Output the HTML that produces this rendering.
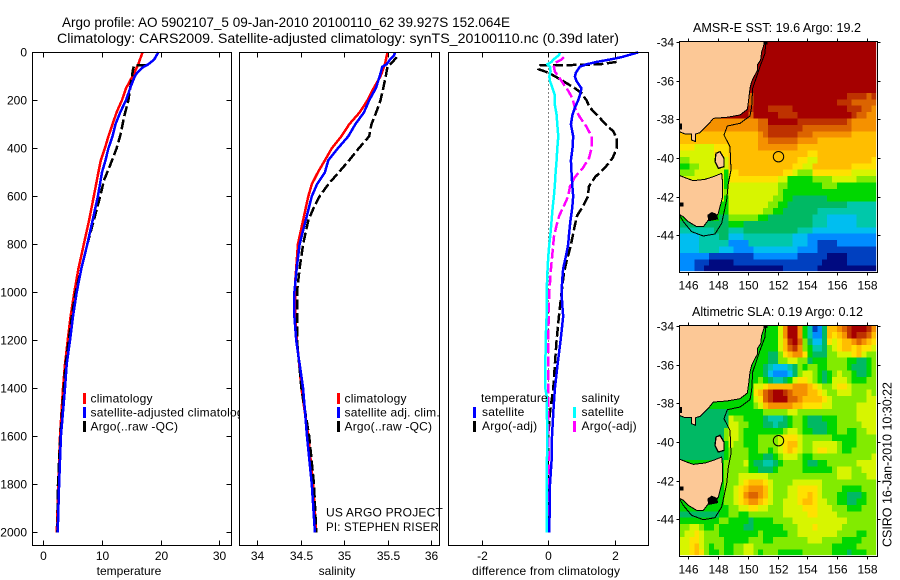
<!DOCTYPE html>
<html lang="en">
<head>
<meta charset="utf-8">
<title>Argo profile chart</title>
<style>
html,body{margin:0;padding:0;background:#fff;width:900px;height:580px;overflow:hidden}
svg{display:block}
text{font-family:"Liberation Sans",Arial,sans-serif;font-size:12px;fill:#000}
.title{font-size:14px}
.mtitle{font-size:13px}
.leg text{letter-spacing:0.2px}
</style>
</head>
<body>
<svg id="chart" xmlns="http://www.w3.org/2000/svg" width="900" height="580" viewBox="0 0 900 580">
  <defs>
    <clipPath id="clip-p1"><rect x="0" y="0" width="239" height="580"/></clipPath>
    <g id="coast">
      <polygon fill="#fcc896" stroke="#000" stroke-width="3" points="85,92 345,92 340,110 335,125 332,150 322,165 322,182 312,200 305,215 300,235 296,270 292,298 270,315 230,322 190,325 178,340 150,368 137,372 137,395 125,390 125,372 105,372 88,365"/>
      <polygon fill="#fcc896" stroke="#000" stroke-width="3" points="85,495 110,505 130,512 165,508 190,500 215,490 218,520 218,560 210,590 205,610 195,625 175,630 160,650 140,650 115,635 100,620 85,612"/>
      <polygon fill="#fcc896" stroke="#000" stroke-width="4" points="198,430 210,425 222,445 222,470 205,475 195,455"/>
      <polygon fill="#000" points="172,615 185,606 200,612 205,628 175,634"/>
      <polygon fill="#000" points="88,578 100,578 100,590 88,590"/>
      <polygon fill="#000" points="88,340 96,340 96,358 88,358"/>
      <polygon fill="#000" points="340,95 352,95 352,103 340,103"/>
      <polyline fill="none" stroke="#000" stroke-width="3" points="88,615 100,635 125,665 160,678 195,672 215,640 230,570 235,520 243,480 240,410 222,375 232,348 270,340 300,318 305,290 308,235 330,170 345,130 347,95"/>
    </g>
  </defs>

  <text class="title" x="62" y="27" textLength="448" lengthAdjust="spacingAndGlyphs">Argo profile: AO 5902107_5 09-Jan-2010 20100110_62 39.927S 152.064E</text>
  <text class="title" x="57" y="43" textLength="562" lengthAdjust="spacingAndGlyphs">Climatology: CARS2009. Satellite-adjusted climatology: synTS_20100110.nc (0.39d later)</text>

  <g id="panel-temp"></g>
  <g id="panel-sal"></g>
  <g id="panel-diff"></g>

  <g class="leg">
    <rect x="83" y="393" width="3" height="11" fill="#f00"/>
    <rect x="83" y="407" width="3" height="11" fill="#00f"/>
    <rect x="83" y="421" width="3" height="11" fill="#000"/>
    <text x="90.5" y="402.5">climatology</text>
    <text x="90.5" y="416.5" clip-path="url(#clip-p1)">satellite-adjusted climatology</text>
    <text x="90.5" y="430.5">Argo(..raw -QC)</text>
  </g>
  <g class="leg">
    <rect x="337" y="393" width="3" height="11" fill="#f00"/>
    <rect x="337" y="407" width="3" height="11" fill="#00f"/>
    <rect x="337" y="421" width="3" height="11" fill="#000"/>
    <text x="344.5" y="402.5">climatology</text>
    <text x="344.5" y="416.5">satellite adj. clim.</text>
    <text x="344.5" y="430.5">Argo(..raw -QC)</text>
    <text x="326" y="516.5" textLength="117" lengthAdjust="spacingAndGlyphs">US ARGO PROJECT</text>
    <text x="326" y="531" textLength="113" lengthAdjust="spacingAndGlyphs">PI: STEPHEN RISER</text>
  </g>
  <g class="leg">
    <text x="481" y="402">temperature</text>
    <rect x="473" y="407" width="3" height="11" fill="#00f"/>
    <rect x="473" y="421" width="3" height="11" fill="#000"/>
    <text x="482" y="416">satellite</text>
    <text x="482" y="430">Argo(-adj)</text>
    <text x="581.5" y="402">salinity</text>
    <rect x="573" y="407" width="3" height="11" fill="#0ff"/>
    <rect x="573" y="421" width="3" height="11" fill="#f0f"/>
    <text x="581.5" y="416">satellite</text>
    <text x="581.5" y="430">Argo(-adj)</text>
  </g>

  <g id="map-sst"></g>
  <g id="map-sla"></g>

  <text class="mtitle" x="693" y="32" textLength="168" lengthAdjust="spacingAndGlyphs">AMSR-E SST: 19.6 Argo: 19.2</text>
  <text class="mtitle" x="692" y="316" textLength="171" lengthAdjust="spacingAndGlyphs">Altimetric SLA: 0.19 Argo: 0.12</text>
  <text class="mtitle" x="891.5" y="547" transform="rotate(-90 891.5 547)" textLength="165" lengthAdjust="spacingAndGlyphs">CSIRO 16-Jan-2010 10:30:22</text>
</svg>

<script>
// ---------- profile data ----------
const depthTicks = [0,200,400,600,800,1000,1200,1400,1600,1800,2000];
const tempTicks = [0,10,20,30];
const salTicks = [34,34.5,35,35.5,36];
const salTickLabels = ['34','34.5','35','35.5','36'];
const diffTicks = [-2,0,2];

const tempClimDepth = [0,50,100,150,200,250,300,350,400,450,500,600,700,800,900,1000,1100,1200,1300,1400,1600,1800,2000];
const tempClim = [16.9,16.2,15.2,14.1,13.4,12.5,11.8,11.1,10.5,9.8,9.4,8.6,7.8,6.9,6.0,5.28,4.66,4.16,3.7,3.36,2.85,2.55,2.3];
const tempSatDepth = [0,30,50,65,85,100,150,200,250,300,350,400,450,500,600,700,800,900,1000,1100,1200,1300,1400,1600,1800,2000];
const tempSat = [19.6,18.9,17.9,16.8,16.0,15.6,14.8,14.1,13.1,12.3,11.8,11.1,10.6,10.0,9.3,8.4,7.5,6.5,5.7,5.06,4.55,3.98,3.7,3.0,2.7,2.45];
const tempArgoDepth = [53,55,70,117,200,270,340,400,470,533,600,700,800,900,1000,1100,1200,1300,1400,1600,1800,2000];
const tempArgo = [17.6,15.5,15.3,15.0,14.5,13.75,13.2,12.5,11.4,10.35,9.7,8.6,7.5,6.5,5.5,4.85,4.35,3.8,3.5,2.9,2.5,2.4];

const salClimDepth = [0,50,100,150,200,250,300,350,400,450,500,550,600,700,800,900,950,1000,1100,1200,1400,1600,1800,2000];
const salClim = [35.50,35.47,35.42,35.34,35.27,35.18,35.06,34.97,34.86,34.78,34.70,34.63,34.59,34.53,34.47,34.45,34.44,34.44,34.44,34.46,34.51,34.59,34.645,34.68];
const salSatDepth = [0,15,30,50,60,100,150,200,250,300,350,400,450,500,550,600,700,800,900,1000,1100,1200,1400,1600,1800,2000];
const salSat = [35.59,35.57,35.53,35.49,35.44,35.41,35.365,35.29,35.23,35.13,35.05,34.93,34.82,34.78,34.69,34.63,34.56,34.49,34.456,34.43,34.43,34.45,34.53,34.575,34.63,34.665];
const salArgoDepth = [20,40,60,80,100,150,200,250,300,350,400,450,500,550,600,650,700,800,900,1000,1200,1400,1600,1800,2000];
const salArgo = [35.605,35.56,35.5,35.49,35.48,35.45,35.42,35.37,35.315,35.29,35.17,35.06,34.94,34.82,34.72,34.65,34.59,34.53,34.49,34.46,34.46,34.51,34.6,34.655,34.68];

const diffTempSatDepth = [0,10,20,30,40,50,60,70,85,100,120,150,180,200,230,260,300,350,400,450,500,550,600,650,700,750,800,850,900,950,1000,1050,1100,1200,1300,1400,1500,1600,1700,1800,2000];
const diffTempSat = [2.71,2.46,2.21,1.86,1.46,1.15,0.95,0.9,0.83,0.8,0.85,1.0,0.95,0.9,0.8,0.73,0.68,0.75,0.73,0.68,0.7,0.72,0.75,0.72,0.67,0.63,0.6,0.53,0.45,0.42,0.4,0.42,0.45,0.37,0.28,0.2,0.15,0.11,0.1,0.05,0.03];
const diffSalSatDepth = [0,10,20,30,40,50,60,80,100,120,150,180,220,260,300,350,400,450,500,550,600,650,700,750,800,850,900,1000,1100,1200,1400,1430,1600,1800,2000];
const diffSalSat = [0.35,0.33,0.25,0.15,0.1,-0.03,0.05,0.07,0.03,0.05,0.13,0.2,0.2,0.25,0.27,0.3,0.27,0.25,0.22,0.2,0.17,0.13,0.1,0.07,0.03,0,-0.02,-0.05,-0.05,-0.08,-0.09,-0.05,-0.03,-0.05,-0.04];
const diffTempArgoDepth = [40,50,53,54,60,70,85,100,120,150,170,200,230,260,300,330,360,400,440,480,520,560,600,640,680,720,770,820,870,920,1000,1100,1200,1300,1400,1500,1600,1800,2000];
const diffTempArgo = [2.06,1.56,0.75,-0.25,-0.28,-0.3,0,0.2,0.45,0.8,1.0,1.15,1.25,1.46,1.73,1.96,2.06,2.06,1.94,1.71,1.41,1.22,1.2,1.05,0.87,0.8,0.73,0.65,0.55,0.47,0.4,0.32,0.25,0.2,0.15,0.05,0,-0.02,0];
const diffSalArgoDepth = [20,30,45,60,80,110,130,160,190,230,270,310,350,400,440,480,520,560,600,640,680,720,770,830,900,1000,1100,1200,1500,1600,1800,2000];
const diffSalArgo = [0.47,0.4,0.2,0.17,0.2,0.35,0.45,0.6,0.72,0.8,0.95,1.15,1.3,1.3,1.23,1.05,0.8,0.65,0.6,0.47,0.33,0.25,0.17,0.13,0.08,0.03,0.01,0,0,0,0.02,0.01];

// ---------- map data ----------
const mapLonTicks = [146,148,150,152,154,156,158];
const mapLatTicks = [-34,-36,-38,-40,-42,-44];
const floatLon = 152.064;
const floatLat = -39.927;
const levelColors = ['#000a80','#0040c0','#008cff','#00bef0','#00c8aa','#00b964','#00d700','#82eb00','#d7f500','#ffe100','#ffbe00','#f59100','#dc6400','#be3200','#a50000'];

// one character per cell, colour level 0-e (hex), rows north to south
const sstGrid = [
"eeeeeeeeeeeeeeeeeeeeeeeeeeeeeeeeeeeeeeee",
"eeeeeeeeeeeeeeeeeeeeeeeeeeeeeeeeeeeeeeee",
"eeeeeeeeeeeeeeeeeeeeeeeeeeeeeeeeeeeeeeee",
"eeeeeeeeeeeeeeeeeeeeeeeeeeeeeeeeeeeeeeee",
"eeeeeeeeeeeeeeeeeeeeeeeeeeeeeeeeeeeeeeee",
"eeeeeeeeeeeeeeeeeeeeeeeeeeeeeeeeeeeeeeee",
"eeeeeeeeeeeeeeeeeeeeeeeeeeeeeeeeeeeeeeee",
"eeeeeeeeeeeeeeeeeeeeeeeeeeeeeeeeeeeeeeee",
"eeeeeeeeeeeeeeceeeeeeeeeeeeeeeeeeeddddcdd",
"eeeeeeeeeeeeeeceeeeeeeeeeeeeeeeedddccccc",
"eeeeeeeeeeeeeedeeedddddeeeeeeeeeeedddccb",
"eeeeeeeeeeeeeeceeeeeddddeeeeeeeeeeedccbb",
"bbbbbbbbbbbbbbbbcceeeeeeddddddddddcbbbbb",
"bbbbbbbbbbbbbbbbccdddddddccccccccccbbbbb",
"aaaaaaaaaaaaaaaabcddddddcccbbbbbbbbaaaaa",
"aaaaaaaaaaaaaaaabbccccccbbbbaaaaaaaaaaaa",
"9998888999aaaaaabbbbbbbbaaaaaaaaaaaaaaaa",
"8888888999aaaaaaaaaaaaaaaa99aaaaaaaaaaaa",
"7788888888aaaaaaaaaaaaaa9988aaaaaaaaaaa9",
"6677888888aaaaaaaaaaaaa9988aaaaaaaa99999",
"777888888699aaaaaaaaa9987779999999988888",
"8888888886999999999988666667777888887777",
"8888888886888888888877666666677766666666",
"8888888887888888888876666666666666666666",
"8888888886888888888776655555556666666666",
"8888888866888888887766555555555555444444",
"8888888866888888877665555555444444444444",
"6666666655777777665555555554443333334444",
"5555555555666555555555555554443333334444",
"4444444555444555555555554443333333333333",
"3333444455333444444444433322222222222222",
"3333444444222244444444433322111122222222",
"3333444433322223333333332222111111111111",
"2222221111111112222222221111110000111111",
"2221110000011111111111111111100000111111",
"2221100000000000000001111111000000000000"
];

const slaGrid = [
"666666666666666666668beeb64125aabcdeeedb",
"666666666666666666668beeb64225a9abdeddca",
"666666666666666666668adec75335989aabcba9",
"666666666666666666668acdb76445789aa9a998",
"6666666666666666665579abb96555778889a877",
"6666666666666666665577887756667777665567",
"6666666666666666654333457677667777655567",
"6666666666666666653222357887656787765567",
"6666666666666666765445689987656888766677",
"666666666666666889aaaaabbba9877899877777",
"6666666666666669acdeedcbbbaa987788877787",
"66666666666666689cdeeeccbaaaa98777777788",
"66666666666666678abbbbbaa999988777778888",
"5555555555666666677777887777777777778888",
"5555555555877666654445677655566677778888",
"5555555555887766655455677655556677777888",
"5555555557887666666667887665556677667788",
"5555555557887666777789998777777666667777",
"5555555556877666777789aa8778888876667777",
"5555555556777766776789a98778998876677777",
"5555555556777766655678887667777777777778",
"6666666667777865544567777655667777778888",
"6666666667777766555677777666666788877888",
"6666666667778888887777777777777788877788",
"6666666667778 9aaa98777788888877777777777".replace(' ',''),
"66666666677 89abbba8777889999877776666777".replace(' ',''),
"66666666677 89bccba877 78899a9877766555677".replace(/ /g,''),
"66666666677 89abba98778889aa9887766556677".replace(' ',''),
"6666666666778899887778888999888777666777",
"5555555566776677777778888899888877777777",
"6666666677666656666777788888888888777777",
"7788766766666556666667778889888887777777",
"7889877766666666766666778888888877776677",
"8899877776666677766777777788877776666777",
"889a876776677887777777777777777666667777",
"889a976676677887677766666777777666566677"
];

// ---------- helpers ----------
const NS = 'http://www.w3.org/2000/svg';
function mk(parent, tag, props) {
  const el = document.createElementNS(NS, tag);
  for (const k in props) el.setAttribute(k, props[k]);
  parent.appendChild(el);
  return el;
}
function drawText(parent, name, str, x, y, anchor) {
  const t = mk(parent, 'text', {x: x, y: y, 'text-anchor': anchor});
  t.textContent = str;
  
  
  return t;
}
function drawTick(parent, name, x1, y1, x2, y2) {
  const l = mk(parent, 'line', {x1: x1, y1: y1, x2: x2, y2: y2, stroke: '#000', 'stroke-width': 1, 'shape-rendering': 'crispEdges'});
  
  
}
function drawFrame(parent, name, x, y, w, h) {
  const r = mk(parent, 'rect', {x: x, y: y, width: w, height: h, fill: 'none', stroke: '#000', 'stroke-width': 1, 'shape-rendering': 'crispEdges'});
  
  
}
function drawProfile(parent, name, xs, depths, xFn, color, dashed) {
  const pts = xs.map((v, i) => xFn(v).toFixed(1) + ',' + yDepth(depths[i]).toFixed(1)).join(' ');
  const p = mk(parent, 'polyline', {points: pts, fill: 'none', stroke: color, 'stroke-width': 2.5, 'shape-rendering': 'crispEdges', 'stroke-linejoin': 'round'});
  if (dashed) p.setAttribute('stroke-dasharray', '10 3.5');
  
  
}

// ---------- axis functions ----------
const yDepth = d => 52.3 + d * 0.24;
const xTemp = t => 43.3 + t * 5.867;
const xSal = s => 257 + (s - 34) * 87;
const xDiff = v => 548.3 + v * 33.2;

const TOP = 52.5, BOTTOM = 545.5;

// ---------- temperature panel ----------
const gT = document.getElementById('panel-temp');
drawProfile(gT, 'climatology-temperature-line', tempClim, tempClimDepth, xTemp, '#f00', false);
drawProfile(gT, 'argo-temperature-line', tempArgo, tempArgoDepth, xTemp, '#000', true);
drawProfile(gT, 'satellite-temperature-line', tempSat, tempSatDepth, xTemp, '#00f', false);
drawFrame(gT, 'temperature-plot-frame', 32.5, TOP, 199, BOTTOM - TOP);
depthTicks.forEach(d => {
  const y = Math.round(yDepth(d)) + 0.5;
  drawTick(gT, 'depth-tick-left', 32.5, y, 37.5, y);
  drawTick(gT, 'depth-tick-right', 226.5, y, 231.5, y);
  drawText(gT, 'depth-tick-label', String(d), 27, y + 4, 'end');
});
tempTicks.forEach(t => {
  const x = Math.round(xTemp(t)) + 0.5;
  drawTick(gT, 'temperature-tick-top', x, TOP, x, TOP + 5);
  drawTick(gT, 'temperature-tick-bottom', x, BOTTOM - 5, x, BOTTOM);
  drawText(gT, 'temperature-tick-label', String(t), x, 560, 'middle');
});
drawText(gT, 'temperature-axis-title', 'temperature', 129, 575, 'middle');

// ---------- salinity panel ----------
const gS = document.getElementById('panel-sal');
drawProfile(gS, 'climatology-salinity-line', salClim, salClimDepth, xSal, '#f00', false);
drawProfile(gS, 'argo-salinity-line', salArgo, salArgoDepth, xSal, '#000', true);
drawProfile(gS, 'satellite-salinity-line', salSat, salSatDepth, xSal, '#00f', false);
drawFrame(gS, 'salinity-plot-frame', 239.5, TOP, 200, BOTTOM - TOP);
salTicks.forEach((s, i) => {
  const x = Math.round(xSal(s)) + 0.5;
  drawTick(gS, 'salinity-tick-top', x, TOP, x, TOP + 5);
  drawTick(gS, 'salinity-tick-bottom', x, BOTTOM - 5, x, BOTTOM);
  drawText(gS, 'salinity-tick-label', salTickLabels[i], x, 560, 'middle');
});
drawText(gS, 'salinity-axis-title', 'salinity', 337, 575, 'middle');

// ---------- difference panel ----------
const gD = document.getElementById('panel-diff');
const zero = mk(gD, 'line', {x1: xDiff(0), y1: TOP, x2: xDiff(0), y2: yDepth(2000), stroke: '#000', 'stroke-width': 1, 'stroke-dasharray': '1 3', 'shape-rendering': 'crispEdges'});


drawProfile(gD, 'argo-temperature-difference-line', diffTempArgo, diffTempArgoDepth, xDiff, '#000', true);
drawProfile(gD, 'argo-salinity-difference-line', diffSalArgo, diffSalArgoDepth, xDiff, '#f0f', true);
drawProfile(gD, 'satellite-temperature-difference-line', diffTempSat, diffTempSatDepth, xDiff, '#00f', false);
drawProfile(gD, 'satellite-salinity-difference-line', diffSalSat, diffSalSatDepth, xDiff, '#0ff', false);
drawFrame(gD, 'difference-plot-frame', 448.5, TOP, 200, BOTTOM - TOP);
diffTicks.forEach(v => {
  const x = Math.round(xDiff(v)) + 0.5;
  drawTick(gD, 'difference-tick-top', x, TOP, x, TOP + 5);
  drawTick(gD, 'difference-tick-bottom', x, BOTTOM - 5, x, BOTTOM);
  drawText(gD, 'difference-tick-label', String(v), x, 560, 'middle');
});
const diffTitle = drawText(gD, 'difference-axis-title', 'difference from climatology', 472, 575, 'start');
diffTitle.setAttribute('textLength', '148');

// ---------- maps ----------
const xLon = lon => 688.3 + (lon - 146) * 14.87;
function drawMap(groupId, grid, prefix, top, labelY, coastDy) {
  const g = document.getElementById(groupId);
  const yLat = lat => top + 0.4 + (-34 - lat) * 19.33;
  const cellW = 4.92, cellH = 6.4, left = 679.5;
  grid.forEach((row, r) => {
    for (let c = 0; c < 40 && c < row.length; c++) {
      const cell = mk(g, 'rect', {
        x: (left + c * cellW).toFixed(2),
        y: (top + r * cellH).toFixed(2),
        width: cellW + 0.2,
        height: cellH + 0.2,
        fill: levelColors[parseInt(row[c], 16)],
        'shape-rendering': 'crispEdges'
      });
      
      
    }
  });
  const coast = mk(g, 'use', {href: '#coast', transform: 'translate(650 ' + coastDy + ') scale(0.33333)', 'shape-rendering': 'crispEdges'});
  
  
  // keep the coast inside the frame
  const mask = mk(g, 'rect', {x: 672, y: top - 5, width: 7.5, height: 240, fill: '#fff'});
  
  
  const maskTop = mk(g, 'rect', {x: 672, y: top - 8, width: 210, height: 8, fill: '#fff'});
  
  
  const gapR = mk(g, 'rect', {x: 876.2, y: top, width: 1.3, height: 231, fill: '#fff'});
  
  
  const gapB = mk(g, 'rect', {x: left, y: top + 229.5, width: 198, height: 1.5, fill: '#fff'});
  
  
  const marker = mk(g, 'circle', {cx: xLon(floatLon).toFixed(1), cy: yLat(floatLat).toFixed(1), r: 5.2, fill: 'none', stroke: '#000', 'stroke-width': 1});
  
  
  drawFrame(g, prefix + '-map-frame', 679.5, top - 0.2, 198, 231);
  const bottom = top + 230.8;
  mapLatTicks.forEach(lat => {
    const y = Math.round(yLat(lat)) + 0.5;
    drawTick(g, prefix + '-latitude-tick-left', 676.5, y, 679.5, y);
    drawTick(g, prefix + '-latitude-tick-right', 877.5, y, 880.5, y);
    drawText(g, prefix + '-latitude-label', String(lat), 674, y + 4, 'end');
  });
  mapLonTicks.forEach(lon => {
    const x = Math.round(xLon(lon)) + 0.5;
    drawTick(g, prefix + '-longitude-tick-top', x, top - 3, x, top);
    drawTick(g, prefix + '-longitude-tick-bottom', x, bottom, x, bottom + 3);
    drawText(g, prefix + '-longitude-label', String(lon), x, labelY, 'middle');
  });
}
drawMap('map-sst', sstGrid, 'sst', 41.7, 289.5, 10);
drawMap('map-sla', slaGrid, 'sla', 325.7, 573.5, 293.7);
</script>
</body>
</html>
